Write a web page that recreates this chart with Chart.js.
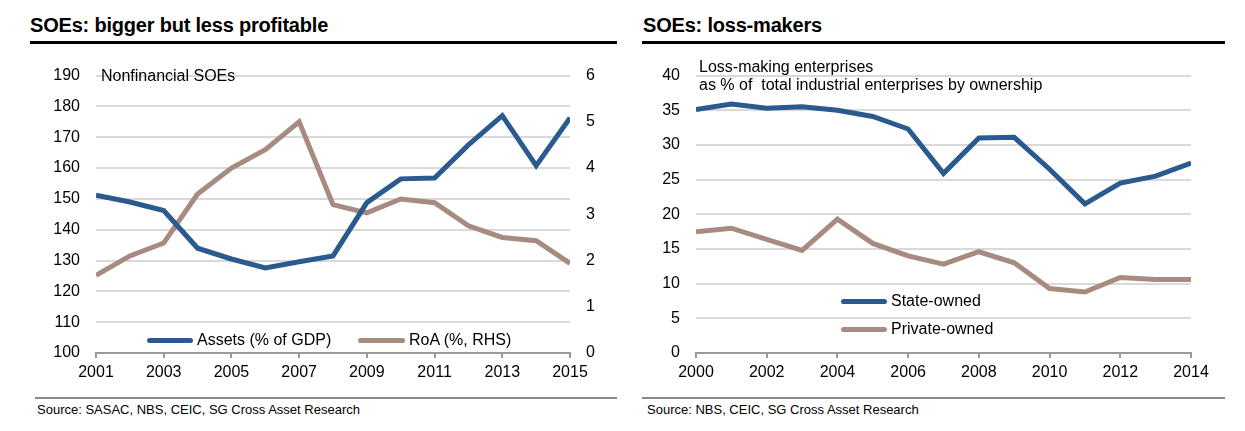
<!DOCTYPE html>
<html>
<head>
<meta charset="utf-8">
<script src="https://cdn.jsdelivr.net/npm/chart.js@4.4.0/dist/chart.umd.min.js"></script>
<style>
  html, body { margin:0; padding:0; background:#fff; }
  body { width:1245px; height:431px; position:relative; overflow:hidden; font-family:"Liberation Sans", Arial, Helvetica, sans-serif; color:#000; }
  .abs { position:absolute; white-space:nowrap; }
  .title { font-size:20px; line-height:22px; font-weight:bold; letter-spacing:-0.2px; }
  .rule { position:absolute; height:3px; background:#000; }
  .srule { position:absolute; height:2px; background:#8a8a8a; }
  .src { font-size:13px; line-height:14px; }
  .note { font-size:16px; line-height:18px; }
  .leg { font-size:16px; line-height:18px; }
  .sw { position:absolute; height:5px; border-radius:3px; }
  canvas { position:absolute; }
</style>
</head>
<body>
<div class="abs title" style="left:30px;top:14px;">SOEs: bigger but less profitable</div>
<div class="rule" style="left:30px;top:41px;width:587px;"></div>
<div class="abs title" style="left:643px;top:14px;">SOEs: loss-makers</div>
<div class="rule" style="left:642px;top:41px;width:583px;"></div>

<div style="position:absolute;left:0;top:50px;width:620px;height:340px;"><canvas id="c1"></canvas></div>
<div style="position:absolute;left:625px;top:50px;width:620px;height:340px;"><canvas id="c2"></canvas></div>

<div class="abs note" style="left:101px;top:67px;">Nonfinancial SOEs</div>
<div class="abs note" style="left:699px;top:58px;">Loss-making enterprises</div>
<div class="abs note" style="left:699px;top:76px;">as % of &nbsp;total industrial enterprises by ownership</div>

<div class="sw" style="left:147px;top:338px;width:46px;background:#2a5a8e;"></div>
<div class="abs leg" style="left:197px;top:331px;">Assets (% of GDP)</div>
<div class="sw" style="left:358px;top:338px;width:47px;background:#a88b80;"></div>
<div class="abs leg" style="left:409px;top:331px;">RoA (%, RHS)</div>

<div class="sw" style="left:841px;top:299px;width:46px;background:#2a5a8e;"></div>
<div class="abs leg" style="left:891px;top:292px;">State-owned</div>
<div class="sw" style="left:841px;top:327px;width:46px;background:#a88b80;"></div>
<div class="abs leg" style="left:891px;top:320px;">Private-owned</div>

<div class="srule" style="left:35px;top:397px;width:582px;"></div>
<div class="abs src" style="left:37px;top:403px;">Source: SASAC, NBS, CEIC, SG Cross Asset Research</div>
<div class="srule" style="left:642px;top:397px;width:583px;"></div>
<div class="abs src" style="left:647px;top:403px;">Source: NBS, CEIC, SG Cross Asset Research</div>

<script>
// ---- Data: left chart ----
const yearsLeft = [2001,2002,2003,2004,2005,2006,2007,2008,2009,2010,2011,2012,2013,2014,2015];
const assetsPctGDP = [151.2,149.0,146.2,134.0,130.5,127.6,129.6,131.5,148.8,156.5,156.8,167.5,177.0,160.8,176.3];
const roaPct = [1.68,2.10,2.38,3.44,4.00,4.40,5.00,3.21,3.03,3.33,3.25,2.75,2.50,2.43,1.94];

// ---- Data: right chart ----
const yearsRight = [2000,2001,2002,2003,2004,2005,2006,2007,2008,2009,2010,2011,2012,2013,2014];
const stateOwned = [35.1,35.9,35.3,35.5,35.0,34.1,32.3,25.9,31.0,31.1,26.5,21.5,24.5,25.5,27.4];
const privateOwned = [17.5,18.0,16.4,14.8,19.3,15.8,14.0,12.8,14.6,13.0,9.3,8.8,10.9,10.6,10.6];

const BLUE = '#2a5a8e';
const BROWN = '#a88b80';
const FONT = {family:'"Liberation Sans", Arial, Helvetica, sans-serif', size:16};

function pts(xs, ys){ return xs.map((x,i)=>({x:x, y:ys[i]})); }

function fixW(w){ return function(s){ s.width = w; }; }
function fixH(h){ return function(s){ s.height = h; }; }

const xCommon = (min,max)=>({
  type:'linear', min:min, max:max,
  ticks:{stepSize:2, color:'#000', font:FONT, padding:5, callback:v=>String(v), maxRotation:0, autoSkip:false},
  grid:{display:true, drawOnChartArea:false, drawTicks:true, tickLength:5, color:'#9a9a9a', lineWidth:2},
  border:{display:true, color:'#9a9a9a', width:2},
  afterFit: fixH(37)
});

const lineDs = (label, data, color, axis)=>({
  label:label, data:data, borderColor:color, backgroundColor:color,
  borderWidth:5, pointRadius:0, pointHoverRadius:0, tension:0, fill:false, yAxisID:axis
});

new Chart(document.getElementById('c1'), {
  type:'line',
  data:{ datasets:[
    lineDs('Assets (% of GDP)', pts(yearsLeft, assetsPctGDP), BLUE, 'y'),
    lineDs('RoA (%, RHS)', pts(yearsLeft, roaPct), BROWN, 'y1')
  ]},
  options:{
    responsive:true, maintainAspectRatio:false, animation:false,
    layout:{padding:{top:19,left:0,right:0,bottom:0}},
    plugins:{legend:{display:false}, tooltip:{enabled:false}},
    scales:{
      x: xCommon(2001,2015),
      y:{ type:'linear', position:'left', min:100, max:190,
          ticks:{stepSize:10, color:'#000', font:FONT, padding:16},
          grid:{color:'#d9d9d9', lineWidth:2, drawTicks:false},
          border:{display:false}, afterFit:fixW(96)},
      y1:{ type:'linear', position:'right', min:0, max:6,
          ticks:{stepSize:1, color:'#000', font:FONT, padding:16},
          grid:{display:false, drawTicks:false},
          border:{display:false}, afterFit:fixW(50)}
    }
  }
});

new Chart(document.getElementById('c2'), {
  type:'line',
  data:{ datasets:[
    lineDs('State-owned', pts(yearsRight, stateOwned), BLUE, 'y'),
    lineDs('Private-owned', pts(yearsRight, privateOwned), BROWN, 'y')
  ]},
  options:{
    responsive:true, maintainAspectRatio:false, animation:false,
    layout:{padding:{top:20,left:0,right:54,bottom:0}},
    plugins:{legend:{display:false}, tooltip:{enabled:false}},
    scales:{
      x: xCommon(2000,2014),
      y:{ type:'linear', position:'left', min:0, max:40,
          ticks:{stepSize:5, color:'#000', font:FONT, padding:16},
          grid:{color:'#d9d9d9', lineWidth:2, drawTicks:false},
          border:{display:false}, afterFit:fixW(71)}
    }
  }
});
</script>
</body>
</html>
